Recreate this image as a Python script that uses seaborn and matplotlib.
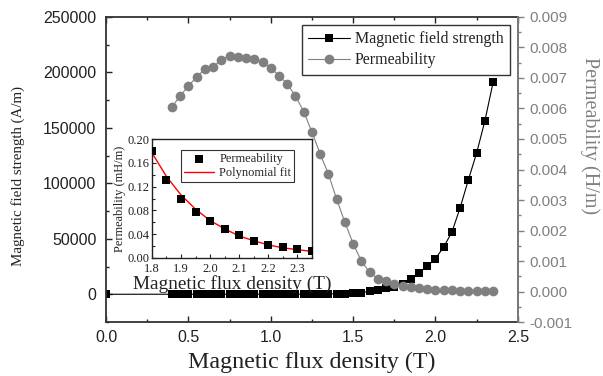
import matplotlib
matplotlib.use("Agg")
import matplotlib.pyplot as plt
from matplotlib.ticker import MultipleLocator, FormatStrFormatter
import seaborn as sns

# main curves: flux density (T), field strength (A/m), permeability (H/m)
b_field = [0.0, 0.40, 0.45, 0.50, 0.55, 0.60, 0.65, 0.70, 0.75, 0.80, 0.85,
           0.90, 0.95, 1.00, 1.05, 1.10, 1.15, 1.20, 1.25, 1.30, 1.35, 1.40,
           1.45, 1.50, 1.55, 1.60, 1.65, 1.70, 1.75, 1.80, 1.85, 1.90, 1.95,
           2.00, 2.05, 2.10, 2.15, 2.20, 2.25, 2.30, 2.35]
h_field = [0, 66, 70, 74, 78, 82, 88, 92, 97, 104, 111,
           118, 127, 136, 149, 163, 180, 203, 237, 292, 351, 462,
           640, 950, 1550, 2540, 3900, 5230, 6760, 9600, 13800, 19500, 25300,
           32100, 42700, 56200, 78200, 103400, 127500, 156400, 191300]

b_perm = [0.40, 0.45, 0.50, 0.55, 0.60, 0.65, 0.70, 0.75, 0.80, 0.85, 0.90,
          0.95, 1.00, 1.05, 1.10, 1.15, 1.20, 1.25, 1.30, 1.35, 1.40, 1.45,
          1.50, 1.55, 1.60, 1.65, 1.70, 1.75, 1.80, 1.85, 1.90, 1.95, 2.00,
          2.05, 2.10, 2.15, 2.20, 2.25, 2.30, 2.35]
perm = [0.00605, 0.00641, 0.00674, 0.00703, 0.00730, 0.00737, 0.00760,
        0.00773, 0.00769, 0.00764, 0.00761, 0.00751, 0.00734, 0.00707,
        0.00681, 0.00641, 0.00590, 0.00523, 0.00451, 0.00385, 0.00303,
        0.00227, 0.00157, 0.00100, 0.00063, 0.00042, 0.00033, 0.00026,
        0.00018, 0.000132, 0.00010, 0.000078, 0.000062, 0.000048, 0.000038,
        0.000028, 0.000022, 0.000018, 0.000015, 0.000012]

# inset: high-field permeability (mH/m) and the polynomial fit
b_inset = [1.80, 1.85, 1.90, 1.95, 2.00, 2.05, 2.10, 2.15, 2.20, 2.25, 2.30, 2.35]
perm_inset = [0.180, 0.132, 0.100, 0.078, 0.062, 0.048, 0.038, 0.028, 0.022,
              0.018, 0.015, 0.012]
fit_inset = [0.177, 0.137, 0.106, 0.082, 0.063, 0.049, 0.037, 0.029, 0.022,
             0.017, 0.014, 0.011]

sns.set_theme(style="ticks")
plt.rcParams["font.family"] = ["Liberation Sans", "DejaVu Sans"]
SERIF = ["Liberation Serif", "DejaVu Serif"]
GREY = "#808080"
INK = "#222222"

fig = plt.figure(figsize=(6.03, 3.76), dpi=100)
ax = fig.add_axes([0.1758, 0.1436, 0.683, 0.8112])
ax2 = ax.twinx()

sns.lineplot(x=b_field, y=h_field, ax=ax, color="black", marker="s",
             markersize=5.5, markeredgewidth=0, linewidth=0.8,
             label="Magnetic field strength", legend=False)
sns.lineplot(x=b_perm, y=perm, ax=ax2, color=GREY, marker="o",
             markersize=7, markeredgewidth=0, linewidth=0.8,
             label="Permeability", legend=False)

ax.set_xlim(0, 2.5)
ax.set_ylim(-25000, 250000)
ax.xaxis.set_major_locator(MultipleLocator(0.5))
ax.xaxis.set_minor_locator(MultipleLocator(0.25))
ax.xaxis.set_major_formatter(FormatStrFormatter("%.1f"))
ax.yaxis.set_major_locator(MultipleLocator(50000))
ax.yaxis.set_minor_locator(MultipleLocator(25000))
ax.tick_params(which="both", direction="in", top=True, right=False,
               labelsize=11.5, colors=INK, width=1)
ax.tick_params(which="major", length=4)
ax.tick_params(which="minor", length=2.5)
ax.tick_params(axis="y", which="both", pad=7)
ax.tick_params(axis="x", which="both", pad=6)

ax2.set_ylim(-0.001, 0.009)
ax2.yaxis.set_major_locator(MultipleLocator(0.001))
ax2.yaxis.set_minor_locator(MultipleLocator(0.0005))
ax2.yaxis.set_major_formatter(FormatStrFormatter("%.3f"))
ax2.tick_params(which="both", direction="out", colors=GREY, labelsize=11,
                width=1, pad=4)
ax2.tick_params(which="major", length=4)
ax2.tick_params(which="minor", length=2.5)

for name in ("left", "bottom", "top"):
    ax.spines[name].set_visible(True)
    ax.spines[name].set_color("#333333")
    ax.spines[name].set_linewidth(1.3)
ax2.spines["right"].set_visible(True)
ax2.spines["right"].set_color(GREY)
ax2.spines["right"].set_linewidth(1.3)
for name in ("top", "left", "bottom"):
    ax2.spines[name].set_visible(False)

ax.set_xlabel("Magnetic flux density (T)", family=SERIF, fontsize=17.3,
              color=INK, labelpad=5)
ax.set_ylabel("Magnetic field strength (A/m)", family=SERIF, fontsize=10.8,
              color=INK)
ax.yaxis.set_label_coords(-0.197, 0.479)
ax2.set_ylabel("Permeability (H/m)", family=SERIF, fontsize=14.5, color=GREY,
               rotation=270, va="center")
ax2.yaxis.set_label_coords(1.175, 0.61)

h1, l1 = ax.get_legend_handles_labels()
h2, l2 = ax2.get_legend_handles_labels()
leg = ax2.legend(h1 + h2, l1 + l2, loc="upper right", numpoints=1,
                 prop={"family": SERIF, "size": 11.5}, frameon=True,
                 fancybox=False, edgecolor="black", handlelength=2.6,
                 handletextpad=0.3, borderpad=0.4, labelspacing=0.3,
                 borderaxespad=0.5)
leg.get_frame().set_linewidth(1.0)
for t in leg.get_texts():
    t.set_color(INK)

# inset
axi = fig.add_axes([0.252, 0.314, 0.265, 0.316])
sns.scatterplot(x=b_inset, y=perm_inset, ax=axi, color="black", marker="s",
                s=32, linewidth=0, label="Permeability", zorder=3)
sns.lineplot(x=b_inset, y=fit_inset, ax=axi, color="red", linewidth=1.0,
             label="Polynomial fit")
axi.set_xlim(1.8, 2.35)
axi.set_ylim(0, 0.2)
axi.xaxis.set_major_locator(MultipleLocator(0.1))
axi.xaxis.set_minor_locator(MultipleLocator(0.05))
axi.yaxis.set_major_locator(MultipleLocator(0.04))
axi.yaxis.set_minor_locator(MultipleLocator(0.02))
axi.tick_params(which="both", direction="in", labelsize=9, width=0.8,
                colors=INK)
axi.tick_params(axis="y", which="both", pad=1.5)
axi.tick_params(axis="x", which="both", pad=4)
axi.tick_params(which="major", length=3)
axi.tick_params(which="minor", length=1.8)
axi.yaxis.set_major_formatter(FormatStrFormatter("%.2f"))
axi.xaxis.set_major_formatter(FormatStrFormatter("%.1f"))
for lbl in axi.get_xticklabels() + axi.get_yticklabels():
    lbl.set_family(SERIF)
for s in axi.spines.values():
    s.set_color(INK)
    s.set_linewidth(1.0)
axi.set_xlabel("Magnetic flux density (T)", family=SERIF, fontsize=13.9,
               color=INK, labelpad=-0.5)
axi.set_ylabel("Permeability (mH/m)", family=SERIF, fontsize=8.9,
               color=INK, labelpad=1)
legi = axi.legend(loc="upper right", prop={"family": SERIF, "size": 9},
                  frameon=True, fancybox=False, edgecolor="black",
                  handlelength=2.4, handletextpad=0.4, borderpad=0.25,
                  labelspacing=0.15, bbox_to_anchor=(0.93, 0.96))
legi.get_frame().set_linewidth(0.8)

fig.savefig("out.png", dpi=100)
